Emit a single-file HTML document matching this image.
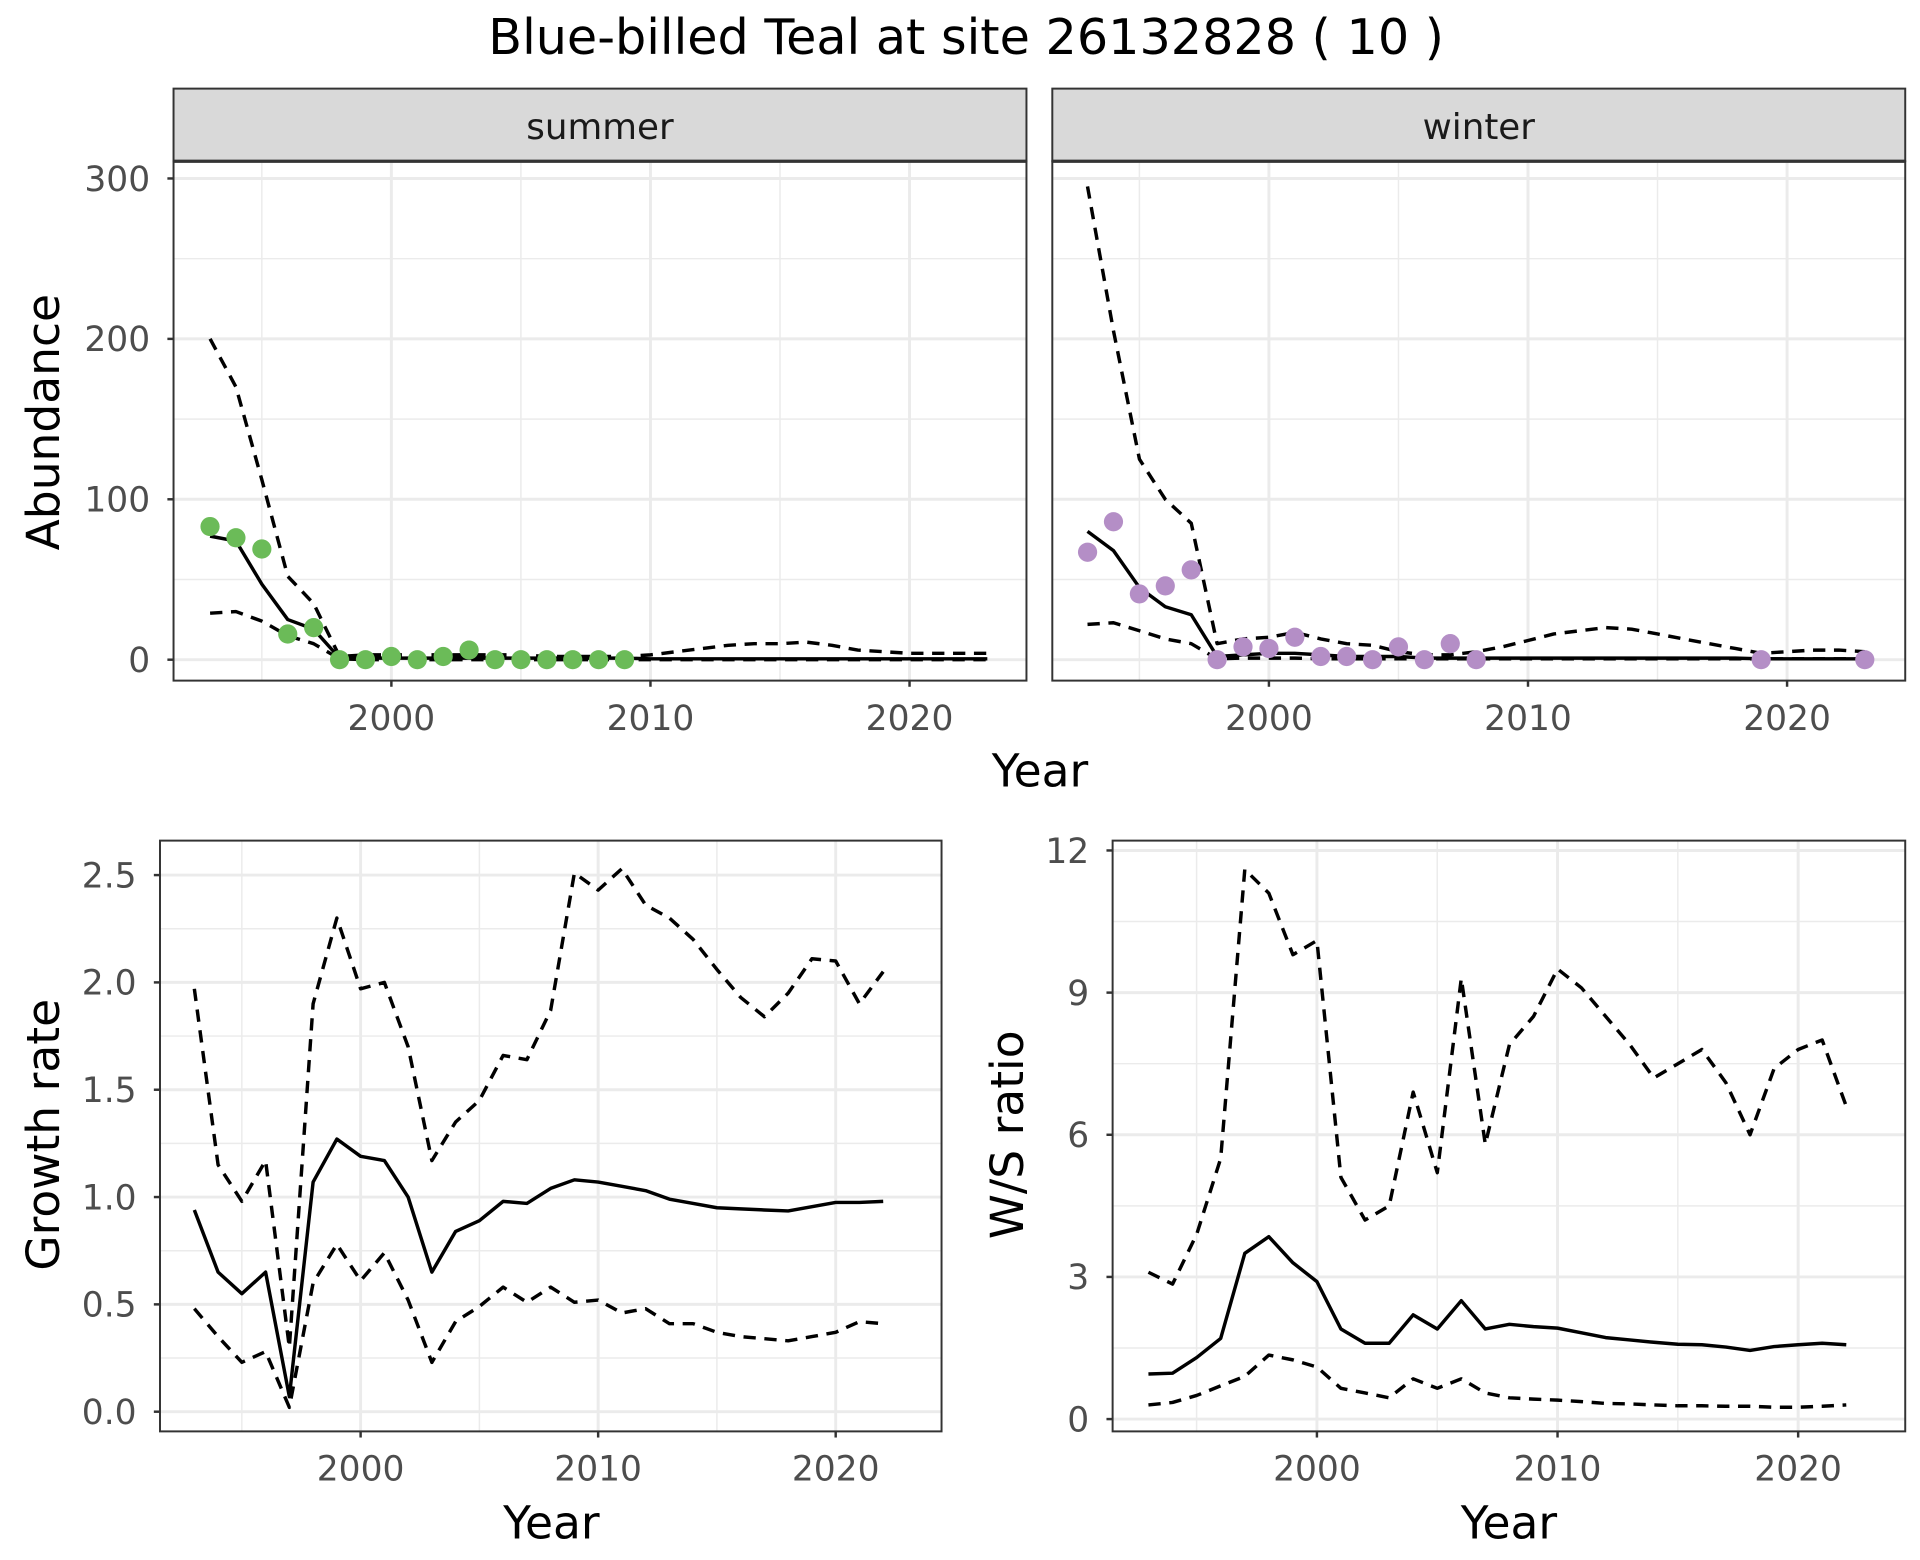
<!DOCTYPE html>
<html><head><meta charset="utf-8"><style>
html,body{margin:0;padding:0;background:#fff}
svg{display:block}
text{font-family:"DejaVu Sans","Liberation Sans",sans-serif}
</style></head><body>
<svg id="chart" width="1920" height="1560" viewBox="0 0 1560 1267.5" xmlns="http://www.w3.org/2000/svg">
<text x="785" y="44" font-size="40" text-anchor="middle" fill="#000">Blue-billed Teal at site 26132828 ( 10 )</text>
</svg>
<script>
// ---- data ----
const yearsA = [1993,1994,1995,1996,1997,1998,1999,2000,2001,2002,2003,2004,2005,2006,2007,2008,2009,2010,2011,2012,2013,2014,2015,2016,2017,2018,2019,2020,2021,2022,2023];
const sumMid = [77,74,47,25,19,1,1,1,1,1,1,1,1,1,1,1,1,0.5,0.5,0.5,0.5,0.5,0.5,0.5,0.5,0.5,0.5,0.5,0.5,0.5,0.5];
const sumHi  = [200,170,112,52,35,2,3,3,3,3,3,3,3,2,2,2,2,3,5,7,9,10,10,11,9,6,5,4,4,4,4];
const sumLo  = [29,30,24,15,10,0.5,0,0,0,0,0,0,0,0,0,0,0,0,0,0,0,0,0,0,0,0,0,0,0,0,0];
const sumPtYears = [1993,1994,1995,1996,1997,1998,1999,2000,2001,2002,2003,2004,2005,2006,2007,2008,2009];
const sumPtVals  = [83,76,69,16,20,0,0,2,0,2,6,0,0,0,0,0,0];
const winMid = [80,68,45,33,28,2,3,4,4,3,2,2,2,1,1,1,1,1,1,1,1,1,1,1,1,1,0.5,0.5,0.5,0.5,0.5];
const winHi  = [295,205,125,100,85,10,13,14,17,13,10,9,5,3,3,5,8,12,16,18,20,19,16,13,10,7,4,5,6,6,5];
const winLo  = [22,23,18,13,10,0.5,1,1,1,0.5,0.5,0.5,0.5,0.5,0.5,0.5,0.5,0.5,0.5,0.5,0.5,0.5,0.5,0.5,0.5,0.5,0.5,0.5,0.5,0.5,0.5];
const winPtYears = [1993,1994,1995,1996,1997,1998,1999,2000,2001,2002,2003,2004,2005,2006,2007,2008,2019,2023];
const winPtVals  = [67,86,41,46,56,0,8,7,14,2,2,0,8,0,10,0,0,0];
const yearsB = [1993,1994,1995,1996,1997,1998,1999,2000,2001,2002,2003,2004,2005,2006,2007,2008,2009,2010,2011,2012,2013,2014,2015,2016,2017,2018,2019,2020,2021,2022];
const grMid = [0.94,0.65,0.55,0.65,0.07,1.07,1.27,1.19,1.17,1.0,0.65,0.84,0.89,0.98,0.97,1.04,1.08,1.07,1.05,1.03,0.99,0.97,0.95,0.945,0.94,0.935,0.955,0.975,0.975,0.98];
const grHi  = [1.97,1.15,0.98,1.17,0.3,1.9,2.3,1.97,2.0,1.7,1.17,1.35,1.45,1.66,1.64,1.87,2.51,2.43,2.53,2.36,2.3,2.2,2.06,1.93,1.84,1.95,2.11,2.1,1.9,2.05];
const grLo  = [0.48,0.35,0.23,0.28,0.02,0.6,0.78,0.61,0.74,0.52,0.23,0.42,0.49,0.58,0.51,0.58,0.51,0.52,0.46,0.48,0.41,0.41,0.37,0.35,0.34,0.33,0.35,0.37,0.42,0.41];
const wsMid = [0.95,0.97,1.3,1.7,3.5,3.85,3.3,2.9,1.9,1.6,1.6,2.2,1.9,2.5,1.9,2.0,1.95,1.92,1.82,1.72,1.67,1.62,1.58,1.57,1.52,1.45,1.53,1.57,1.6,1.57];
const wsHi  = [3.1,2.85,3.9,5.5,11.6,11.1,9.8,10.1,5.1,4.2,4.5,6.9,5.2,9.3,5.8,7.9,8.5,9.5,9.1,8.5,7.9,7.2,7.5,7.8,7.1,6.0,7.4,7.8,8.0,6.6];
const wsLo  = [0.3,0.35,0.5,0.7,0.9,1.35,1.25,1.1,0.65,0.55,0.45,0.85,0.65,0.85,0.55,0.45,0.42,0.4,0.37,0.33,0.32,0.3,0.28,0.28,0.27,0.27,0.25,0.25,0.27,0.3];
const xTicks = [2000,2010,2020];
const xMinor = [1995,2005,2015];
const abTicks = [0,100,200,300];
const abMinor = [50,150,250];
const grTicks = [0,0.5,1,1.5,2,2.5];
const grMinor = [0.25,0.75,1.25,1.75,2.25];
const wsTicks = [0,3,6,9,12];
const wsMinor = [1.5,4.5,7.5,10.5];

const NS = "http://www.w3.org/2000/svg";
const svg = document.getElementById('chart');
function mk(tag, attrs, parent){const e=document.createElementNS(NS,tag);for(const k in attrs)e.setAttribute(k,attrs[k]);(parent||svg).appendChild(e);return e;}

function panel(name, box, xs, ys, yT, yMin, yFmt, showY){
  const g = mk('g',{});
  
  
  mk('rect',{x:box.x0,y:box.y0,width:box.x1-box.x0,height:box.y1-box.y0,fill:'#fff'},g);
  yMin.forEach(v=>mk('line',{x1:box.x0,x2:box.x1,y1:ys(v),y2:ys(v),stroke:'#ebebeb','stroke-width':1.2},g));
  xMinor.forEach(v=>{const x=xs(v); if(x>box.x0&&x<box.x1) mk('line',{x1:x,x2:x,y1:box.y0,y2:box.y1,stroke:'#ebebeb','stroke-width':1.2},g);});
  yT.forEach(v=>mk('line',{x1:box.x0,x2:box.x1,y1:ys(v),y2:ys(v),stroke:'#ebebeb','stroke-width':2.4},g));
  xTicks.forEach(v=>mk('line',{x1:xs(v),x2:xs(v),y1:box.y0,y2:box.y1,stroke:'#ebebeb','stroke-width':2.4},g));
  if(showY){
    yT.forEach(v=>{
      mk('line',{x1:box.x0-5,x2:box.x0,y1:ys(v),y2:ys(v),stroke:'#333','stroke-width':2},g);
      const t=mk('text',{x:box.x0-19,y:ys(v)+10,'font-size':28,'text-anchor':'end',fill:'#4d4d4d'},g);
      t.textContent=yFmt(v);
      
      
    });
  }
  xTicks.forEach(v=>{
    mk('line',{x1:xs(v),x2:xs(v),y1:box.y1,y2:box.y1+5,stroke:'#333','stroke-width':2},g);
    const t=mk('text',{x:xs(v),y:box.y1+40,'font-size':28,'text-anchor':'middle',fill:'#4d4d4d'},g);
    t.textContent=v;
    
    
  });
  return g;
}
function line(g, xs, ys, yrs, vals, dashed, name){
  const d = yrs.map((y,i)=>(i?'L':'M')+xs(y).toFixed(1)+','+ys(vals[i]).toFixed(1)).join(' ');
  const p = mk('path',{d:d,fill:'none',stroke:'#000','stroke-width':2.8,'stroke-dasharray':dashed?'10,7':'none','stroke-linejoin':'round'},g);
  
  
}
function pts(g, xs, ys, yrs, vals, col, name){
  yrs.forEach((y,i)=>{
    const c=mk('circle',{cx:xs(y),cy:ys(vals[i]),r:7.8,fill:col},g);
    
    
  });
}
function border(g, box){mk('rect',{x:box.x0,y:box.y0,width:box.x1-box.x0,height:box.y1-box.y0,fill:'none',stroke:'#333','stroke-width':1.6},g);}
function strip(g, box, label){
  mk('rect',{x:box.x0,y:72,width:box.x1-box.x0,height:59,fill:'#d9d9d9',stroke:'#333','stroke-width':1.6},g);
  mk('line',{x1:box.x0,x2:box.x1,y1:131,y2:131,stroke:'#333','stroke-width':2.6},g);
  const t=mk('text',{x:(box.x0+box.x1)/2,y:113,'font-size':29,'text-anchor':'middle',fill:'#1a1a1a'},g);
  t.textContent=label;
  
  
}
function fmt1(v){return v.toFixed(1);}
function fmt0(v){return String(v);}

// summer
const abY = v => 536 - v*1.3033;
const sumX = yr => 318 + (yr-2000)*21.05;
const boxS = {x0:141,x1:834,y0:131,y1:553};
let g = panel('summer-panel', boxS, sumX, abY, abTicks, abMinor, fmt0, true);
line(g,sumX,abY,yearsA,sumHi,true,'summer-upper-ci');
line(g,sumX,abY,yearsA,sumLo,true,'summer-lower-ci');
line(g,sumX,abY,yearsA,sumMid,false,'summer-estimate');
pts(g,sumX,abY,sumPtYears,sumPtVals,'#6bbb58','summer-count-point');
border(g,boxS); strip(g,boxS,'summer');

// winter
const winX = yr => 1031 + (yr-2000)*21.05;
const boxW = {x0:855,x1:1548,y0:131,y1:553};
g = panel('winter-panel', boxW, winX, abY, abTicks, abMinor, fmt0, false);
line(g,winX,abY,yearsA,winHi,true,'winter-upper-ci');
line(g,winX,abY,yearsA,winLo,true,'winter-lower-ci');
line(g,winX,abY,yearsA,winMid,false,'winter-estimate');
pts(g,winX,abY,winPtYears,winPtVals,'#b48ec6','winter-count-point');
border(g,boxW); strip(g,boxW,'winter');

// growth
const grX = yr => 293 + (yr-2000)*19.3;
const grY = v => 1147 - v*174.4;
const boxG = {x0:130,x1:765,y0:683,y1:1163};
g = panel('growth-rate-panel', boxG, grX, grY, grTicks, grMinor, fmt1, true);
line(g,grX,grY,yearsB,grHi,true,'growth-upper-ci');
line(g,grX,grY,yearsB,grLo,true,'growth-lower-ci');
line(g,grX,grY,yearsB,grMid,false,'growth-estimate');
border(g,boxG);

// ws ratio
const wsX = yr => 1070 + (yr-2000)*19.55;
const wsY = v => 1153 - v*38.5;
const boxR = {x0:904,x1:1548,y0:683,y1:1163};
g = panel('ws-ratio-panel', boxR, wsX, wsY, wsTicks, wsMinor, fmt0, true);
line(g,wsX,wsY,yearsB,wsHi,true,'ws-upper-ci');
line(g,wsX,wsY,yearsB,wsLo,true,'ws-lower-ci');
line(g,wsX,wsY,yearsB,wsMid,false,'ws-estimate');
border(g,boxR);

function title(txt,x,y,rot,name){
  const t=mk('text',{x:x,y:y,'font-size':37,'text-anchor':'middle',fill:'#000',transform:rot?`rotate(-90 ${x} ${y})`:''});
  t.textContent=txt;
  
  
}
title('Year',845,639,false,'top-x-axis-title');
title('Abundance',48,343,true,'abundance-y-axis-title');
title('Year',448,1250,false,'growth-x-axis-title');
title('Growth rate',48,922,true,'growth-y-axis-title');
title('Year',1226,1250,false,'ws-x-axis-title');
title('W/S ratio',831,922,true,'ws-y-axis-title');
</script>
</body></html>
